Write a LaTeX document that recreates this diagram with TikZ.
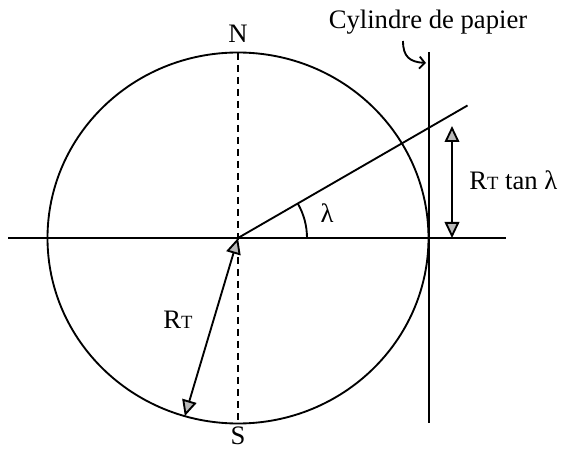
\documentclass[tikz,border=0pt]{standalone}
\usepackage{fontspec}
\setmainfont{Liberation Serif}
\usetikzlibrary{arrows.meta}

\begin{document}
\begin{tikzpicture}[every node/.style={font=\fontsize{20}{22}\selectfont, inner sep=0pt}, x=0.75pt, y=0.75pt,
	trait/.style={line width=1.4pt},
	fleche/.style={trait, {Triangle[fill=gray!55, length=12pt, width=11pt]}-{Triangle[fill=gray!55, length=12pt, width=11pt]}}]
	\useasboundingbox (0,0) rectangle (564,450);
	\coordinate (O) at (238,212);
	\coordinate (hL) at (8,212); \coordinate (hR) at (506,212);
	\coordinate (pN) at (238,397); \coordinate (pS) at (238,27);
	\coordinate (cylH) at (429,398); \coordinate (cylB) at (429,27);
	\coordinate (ray) at ([shift={(30:265)}]O);
	\coordinate (rim) at ([shift={(253.8:190.5 and 185.5)}]O);
	\coordinate (tanB) at (452,212); \coordinate (tanH) at (452,324);
	\coordinate (hook) at (403,409); \coordinate (hookE) at (426,387);
	\draw[trait] (O) ellipse [x radius=190.5, y radius=185.5];
	\draw[trait] (hL) -- (hR);
	\draw[trait, dash pattern=on 5.5pt off 3.5pt] (pN) -- (pS);
	\draw[trait] (cylH) -- (cylB);
	\draw[trait] (O) -- (ray);
	\draw[trait] ([shift={(0:69)}]O) arc [start angle=0, end angle=30, radius=69];
	\draw[fleche] (O) -- (rim);
	\draw[fleche] (tanB) -- (tanH);
	\draw[trait, -{Straight Barb[length=4pt, width=9pt]}] (hook) .. controls (403,393) and (410,388) .. (hookE);
	\node (N) at (238,416) {N};
	\node (S) at (238,14) {S};
	\node (cyl) at (428,428) {Cylindre de papier};
	\node (lam) at (327,237) {λ};
	\node (RT) at (178,130) {R{\fontsize{14}{14}\selectfont T}};
	\node[anchor=west] (RTtan) at (469,270) {R{\fontsize{14}{14}\selectfont T} tan λ};
\end{tikzpicture}
\end{document}
